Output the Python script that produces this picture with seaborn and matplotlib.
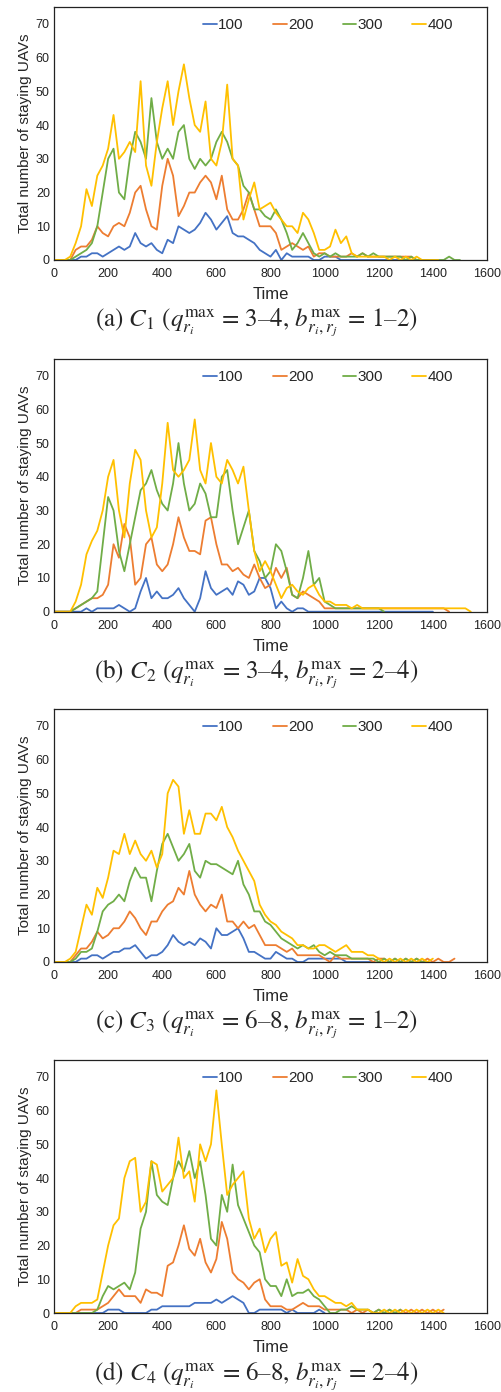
"""
Staying UAVs over time for four capacity settings (C1..C4)
"""

import numpy as np
import pandas as pd
import matplotlib
matplotlib.use("Agg")
import matplotlib.pyplot as plt
import seaborn as sns

STEP = 20  # time between read-off samples

fleet_sizes = ["100", "200", "300", "400"]
colors = ["#4472C4", "#ED7D31", "#70AD47", "#FFC000"]

# ---- (a) C1 ----
a100 = [0,0,0,0,0,1,1,2,2,1, 2,3,4,3,4,8,5,4,5,3, 2,6,5,10,9,8,9,11,14,12,
        9,11,13,8,7,7,6,5,3,2, 1,3,0,2,1,1,1,1,0,0, 1,1,1,0,0,0,0,0,0,0,
        0,0,0,0,0,0,0,0,0,0,0]
a200 = [0,0,0,0,3,4,4,6,10,8, 7,10,11,10,14,20,22,15,10,9, 22,30,25,13,16,20,20,23,25,23,
        18,25,15,12,12,15,20,15,10,10, 10,8,3,4,5,4,3,4,1,2, 2,1,1,1,1,2,1,2,1,1,
        1,1,1,1,1,1,1,0]
a300 = [0,0,0,0,1,2,3,5,10,20, 30,33,20,18,30,38,35,30,48,35, 30,33,30,38,40,30,27,30,28,30,
        35,38,35,30,28,22,20,15,15,13, 12,15,12,8,3,5,8,5,2,1, 2,1,2,1,1,1,1,2,1,2,
        1,1,1,1,1,0,1,0,0,0, 0,0,0,1,0,0]
a400 = [0,0,0,1,5,10,21,16,25,28, 33,43,30,32,35,32,53,28,22,35, 45,53,40,50,58,48,40,38,47,30,
        28,35,52,30,28,12,18,23,15,16, 17,14,12,10,10,8,14,12,8,3, 3,4,9,5,7,2,1,1,1,1,
        1,1,0,1,0,1,0,1,0,0, 0,0]

# ---- (b) C2 ----
b100 = [0,0,0,0,0,0,1,0,1,1, 1,1,2,1,0,1,6,10,4,6, 4,4,5,7,4,2,0,4,12,7,
        5,6,7,5,9,8,5,6,10,10, 7,1,3,1,0,1,1,0,0,0, 0,0,0,0,0,0,0,0,0,0,
        0,0,0,0,0,0,0,0,0,0,0]
b200 = [0,0,0,0,1,2,3,4,4,5, 8,20,16,26,22,8,10,20,22,14, 12,14,20,28,22,18,18,17,27,28,
        20,14,14,12,13,11,10,14,10,7, 8,13,10,13,5,4,6,5,4,3, 1,1,1,1,1,1,1,1,1,1,
        1,1,1,1,1,1,1,1,1,1, 1,1,1,0]
b300 = [0,0,0,0,1,2,3,4,6,20, 34,30,18,12,20,28,36,38,42,36, 32,30,38,50,38,30,32,38,35,28,
        28,40,42,30,20,25,30,18,15,10, 12,20,18,12,5,4,10,18,8,10, 3,2,1,1,1,1,1,1,1,1,
        1,0]
b400 = [0,0,0,0,3,8,17,21,24,30, 40,45,30,22,38,48,45,30,22,25, 38,56,42,40,42,45,57,42,38,50,
        40,38,45,42,38,43,30,18,12,15, 12,8,4,7,8,6,5,7,8,5, 3,3,2,2,2,1,2,1,1,1,
        1,1,1,1,1,1,1,1,1,1, 1,1,1,1,1,1,1,0]

# ---- (c) C3 ----
c100 = [0,0,0,0,0,1,1,2,2,1, 2,3,3,4,4,5,3,1,2,2, 3,5,8,6,5,6,5,7,6,4,
        10,8,8,9,10,7,3,3,2,1, 1,3,2,1,1,0,0,1,1,1, 1,1,1,1,0,0,0,0,0,0]
c200 = [0,0,0,0,2,4,4,6,9,7, 8,10,10,12,15,13,10,8,12,12, 15,17,18,22,20,27,20,17,15,17,
        16,20,12,12,10,12,10,11,8,5, 5,5,4,3,4,2,2,2,2,2, 1,0,2,1,1,1,1,1,1,0,
        1,1,0,1,0,1,0,1,0,1, 0,1,0,0,1]
c300 = [0,0,0,0,1,3,3,4,9,15, 17,18,20,18,24,28,25,25,18,27, 35,38,34,30,32,35,27,25,30,29,
        29,28,27,26,30,23,20,15,15,12, 11,9,7,6,5,4,5,4,5,3, 2,3,2,2,2,1,1,1,1,1,
        0,1,0,1,0,1,0,1,0,0]
c400 = [0,0,0,1,3,10,17,14,22,19, 25,33,32,38,32,36,32,30,33,28, 32,50,54,52,38,45,38,38,44,44,
        42,46,40,37,33,30,27,24,17,14, 12,11,9,8,7,5,5,4,4,5, 5,4,3,4,5,3,3,3,2,2,
        1,0,1,0,1,0,1,0,1,0, 1]

# ---- (d) C4 ----
d100 = [0,0,0,0,0,0,0,0,0,0, 1,1,1,0,0,0,0,0,1,1, 2,2,2,2,2,2,3,3,3,3,
        4,3,4,5,4,3,0,0,1,1, 1,1,1,0,1,0,0,0,0,1, 0]
d200 = [0,0,0,0,0,1,1,1,1,2, 3,5,7,5,5,5,3,7,6,6, 5,14,15,20,26,19,17,22,15,12,
        16,27,22,12,10,9,7,9,10,4, 2,2,2,1,1,2,3,2,2,2, 1,1,1,1,1,0,1,0,1,0,
        1,0,1,0,1,0,1,0,1,0, 1,0,1]
d300 = [0,0,0,0,0,0,0,0,1,5, 8,7,8,9,7,12,25,30,45,35, 33,32,40,45,42,48,40,45,35,22,
        20,35,30,44,32,28,24,20,18,10, 8,8,5,10,5,6,6,7,5,4, 2,0,0,1,1,2,1,1,1,0,
        1,0,1,0,1]
d400 = [0,0,0,0,2,3,3,3,4,12, 20,26,28,40,45,46,30,33,45,44, 36,38,40,52,40,42,33,50,45,50,
        66,50,35,38,40,42,28,22,25,18, 22,24,14,15,9,16,11,10,7,5, 5,4,3,3,2,3,1,1,1,0,
        0,1,0,1,0,1,0,1,0,1, 0,1,0]

panels = [
    ([a100, a200, a300, a400], r"(a) $C_1$ ($q_{r_i}^{\mathrm{max}}$ = 3–4, $b_{r_i,r_j}^{\mathrm{max}}$ = 1–2)"),
    ([b100, b200, b300, b400], r"(b) $C_2$ ($q_{r_i}^{\mathrm{max}}$ = 3–4, $b_{r_i,r_j}^{\mathrm{max}}$ = 2–4)"),
    ([c100, c200, c300, c400], r"(c) $C_3$ ($q_{r_i}^{\mathrm{max}}$ = 6–8, $b_{r_i,r_j}^{\mathrm{max}}$ = 1–2)"),
    ([d100, d200, d300, d400], r"(d) $C_4$ ($q_{r_i}^{\mathrm{max}}$ = 6–8, $b_{r_i,r_j}^{\mathrm{max}}$ = 2–4)"),
]

sns.set_style("white")
plt.rcParams["font.family"] = ["Liberation Sans", "DejaVu Sans"]
plt.rcParams["mathtext.fontset"] = "stix"

fig = plt.figure(figsize=(5.02, 13.92), dpi=100)
W, H = 502, 1392
ax_left, ax_right = 54, 487
ax_tops = [7, 358.7, 709, 1060]
ax_h = 253

for (series, caption), top in zip(panels, ax_tops):
    ax = fig.add_axes([ax_left / W, 1 - (top + ax_h) / H, (ax_right - ax_left) / W, ax_h / H])

    rows = []
    for name, vals in zip(fleet_sizes, series):
        for i, v in enumerate(vals):
            rows.append((i * STEP, v, name))
    df = pd.DataFrame(rows, columns=["Time", "Count", "Fleet"])

    sns.lineplot(data=df, x="Time", y="Count", hue="Fleet", hue_order=fleet_sizes,
                 palette=colors, estimator=None, sort=False, linewidth=1.3, ax=ax)

    ax.set_xlim(0, 1600)
    ax.set_ylim(0, 75)
    ax.set_xticks(range(0, 1601, 200))
    ax.set_yticks(range(0, 71, 10))
    ax.tick_params(axis="both", labelsize=9, length=3, width=0.8, colors="#222222", pad=3)
    ax.tick_params(axis="y", direction="in")
    ax.tick_params(axis="x", direction="out")
    for s in ax.spines.values():
        s.set_color("#222222")
        s.set_linewidth(0.9)
    ax.set_xlabel("Time", fontsize=12, labelpad=5)
    ax.set_ylabel("Total number of staying UAVs", fontsize=11, labelpad=3)

    ax.legend(loc="upper left", bbox_to_anchor=(0.344, 0.955), ncol=4, frameon=False,
              fontsize=11, handlelength=0.9, handletextpad=0.1, columnspacing=1.9,
              borderaxespad=0, borderpad=0)

    fig.text(256 / W, 1 - (top + 316) / H, caption, ha="center", va="center",
             fontsize=18, family="STIXGeneral")

fig.savefig("out.png", dpi=100)
